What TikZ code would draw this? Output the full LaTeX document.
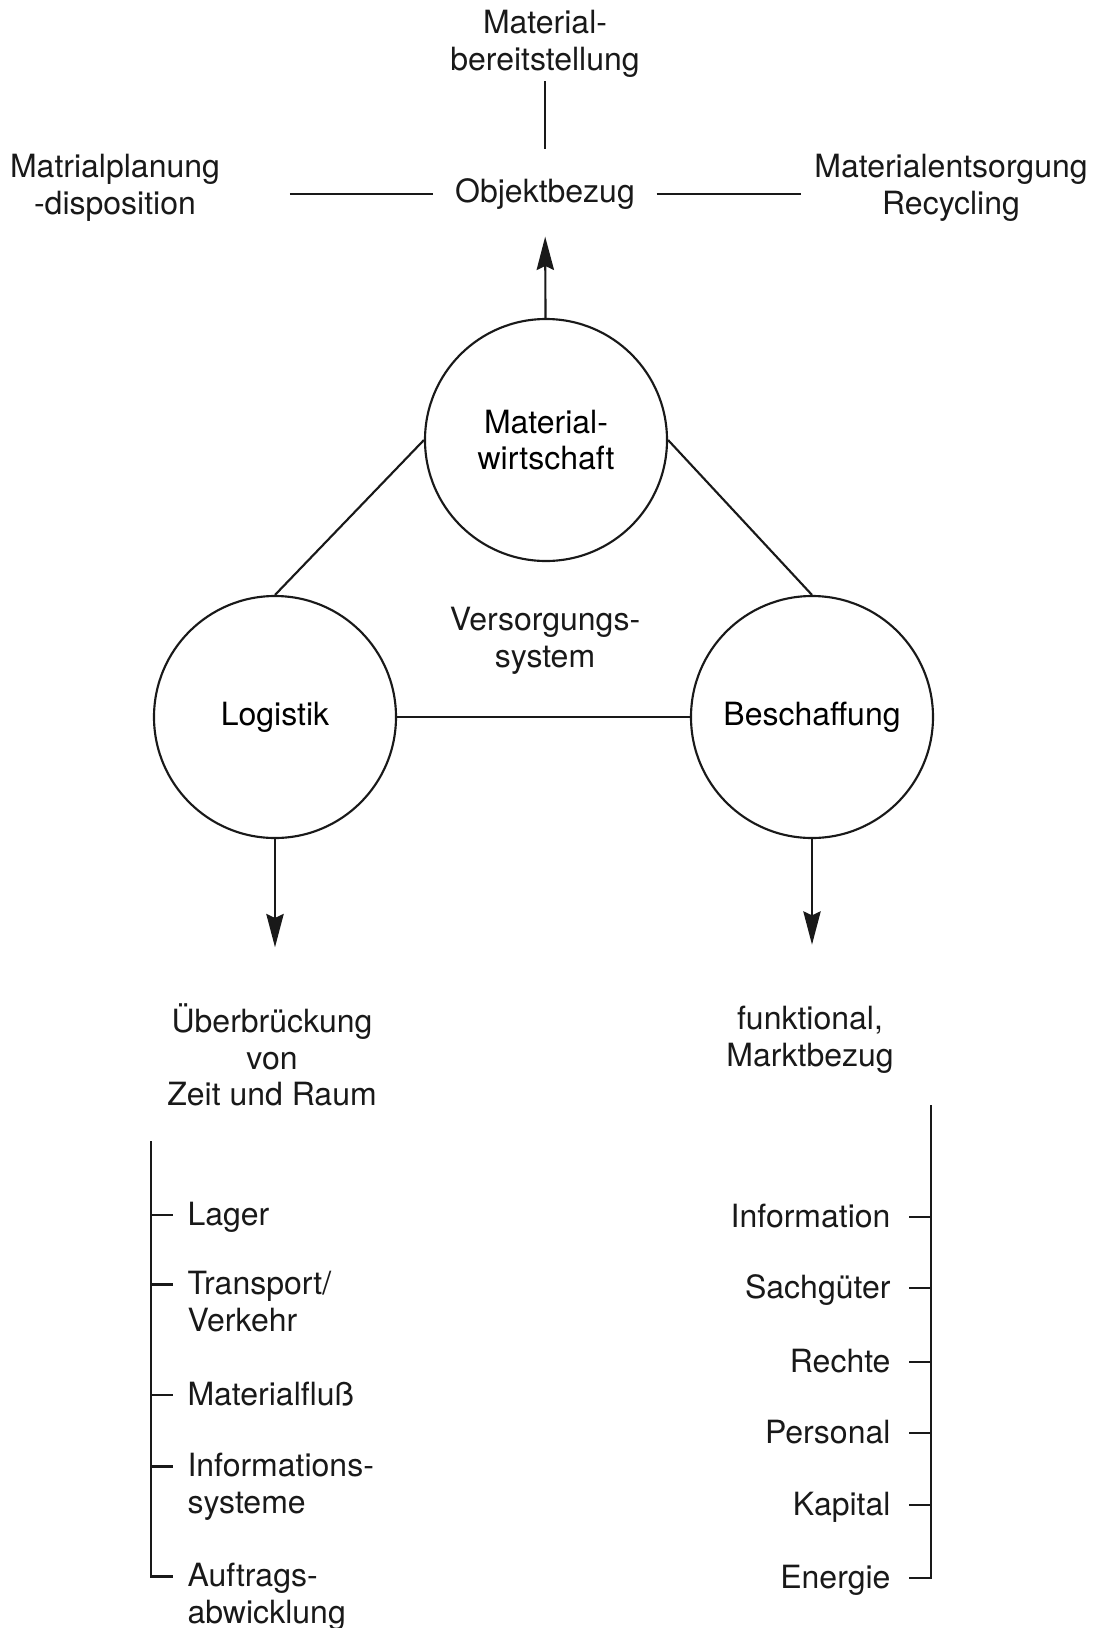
\documentclass[tikz,border=0pt]{standalone}
\usepackage{fontspec}
\setmainfont{TeX Gyre Heros}
\usepackage{tikz}
\usetikzlibrary{arrows.meta, positioning, calc}
\definecolor{mydark}{RGB}{25,25,25}
\tikzset{
  kreis/.style={circle, draw=mydark, line width=0.8pt, minimum size=90.75pt,
    inner sep=0pt, align=center},
  txt/.style={align=center, inner sep=0pt, text=mydark},
  litem/.style={align=left, inner sep=0pt, anchor=base west, text=mydark},
  ritem/.style={align=right, inner sep=0pt, anchor=base east, text=mydark},
  arrow/.style={-{Stealth[length=12.5pt, width=6.5pt, inset=1.5pt]}, line width=0.8pt, color=mydark},
  line/.style={line width=0.8pt, color=mydark},
  klammer/.style={line width=1pt, color=mydark}
}

\begin{document}
\begin{tikzpicture}[x=0.375pt, y=-0.375pt, font=\fontsize{12}{13.7}\selectfont]
  \useasboundingbox (0,0) rectangle (1097,1628);

  % Objektbezug
  \node[txt] (bereit) at (545,44) {Material-\\bereitstellung};
  \node[txt] (obj) at (545,194) {Objektbezug};
  \node[txt] (plan) at (115,188) {Matrialplanung\\-disposition};
  \node[txt] (entsorg) at (951,188) {Materialentsorgung\\Recycling};

  % Versorgungssystem
  \node[kreis] (mat) at (546,440) {Material-\\wirtschaft};
  \node[kreis] (log) at (275,717) {Logistik};
  \node[kreis] (bes) at (812,717) {Beschaffung};
  \node[txt] (vers) at (545,641) {Versorgungs-\\system};

  \node[txt] (ueber) at (272,1055) {Überbrückung\\von\\Zeit und Raum};
  \node[txt] (funk) at (810,1040) {funktional,\\Marktbezug};

  % Logistik list (base = last line)
  \node[litem] (lager) at (187,1225) {Lager};
  \node[litem] (transp) at (187,1331) {Transport/\\Verkehr};
  \node[litem] (mfluss) at (187,1405) {Materialfluß};
  \node[litem] (infsys) at (187,1513) {Informations-\\systeme};
  \node[litem] (auftr) at (187,1623) {Auftrags-\\abwicklung};

  % Beschaffung list
  \node[ritem] (info) at (891,1227) {Information};
  \node[ritem] (sach) at (891,1298) {Sachgüter};
  \node[ritem] (recht) at (891,1372) {Rechte};
  \node[ritem] (pers) at (891,1443) {Personal};
  \node[ritem] (kap) at (891,1515) {Kapital};
  \node[ritem] (energ) at (891,1588) {Energie};

  \coordinate (lsp) at (151,1141);
  \coordinate (rsp) at (931,1105);

  % Paths
  \draw[line, shorten <=11pt, shorten >=1pt] (obj) -- (bereit);
  \draw[line, shorten <=26pt, shorten >=8pt] (plan.east |- obj) -- (obj);
  \draw[line, shorten <=8pt, shorten >=5pt] (obj) -- (entsorg.west |- obj);
  \draw[arrow, shorten >=10pt] (mat) -- (obj);

  \draw[line] (mat.west) -- (log.north);
  \draw[line] (mat.east) -- (bes.north);
  \draw[line] (log) -- (bes);

  \draw[arrow, shorten >=21pt] (log) -- (log |- ueber.north);
  \draw[arrow, shorten >=23pt] (bes) -- (bes |- funk.north);

  % Klammern
  \draw[klammer] (lsp) |- ($(auftr.base west)+(-14,-46.5)$);
  \draw[klammer] ($(lager.base west)+(-36,-10)$) -- ++(22,0);
  \draw[klammer] ($(transp.base west)+(-36,-46.5)$) -- ++(22,0);
  \draw[klammer] ($(mfluss.base west)+(-36,-10)$) -- ++(22,0);
  \draw[klammer] ($(infsys.base west)+(-36,-46.5)$) -- ++(22,0);

  \draw[klammer] (rsp) |- ($(energ.base east)+(18,-10)$);
  \draw[klammer] ($(info.base east)+(18,-10)$) -- ++(22,0);
  \draw[klammer] ($(sach.base east)+(18,-10)$) -- ++(22,0);
  \draw[klammer] ($(recht.base east)+(18,-10)$) -- ++(22,0);
  \draw[klammer] ($(pers.base east)+(18,-10)$) -- ++(22,0);
  \draw[klammer] ($(kap.base east)+(18,-10)$) -- ++(22,0);
\end{tikzpicture}
\end{document}
